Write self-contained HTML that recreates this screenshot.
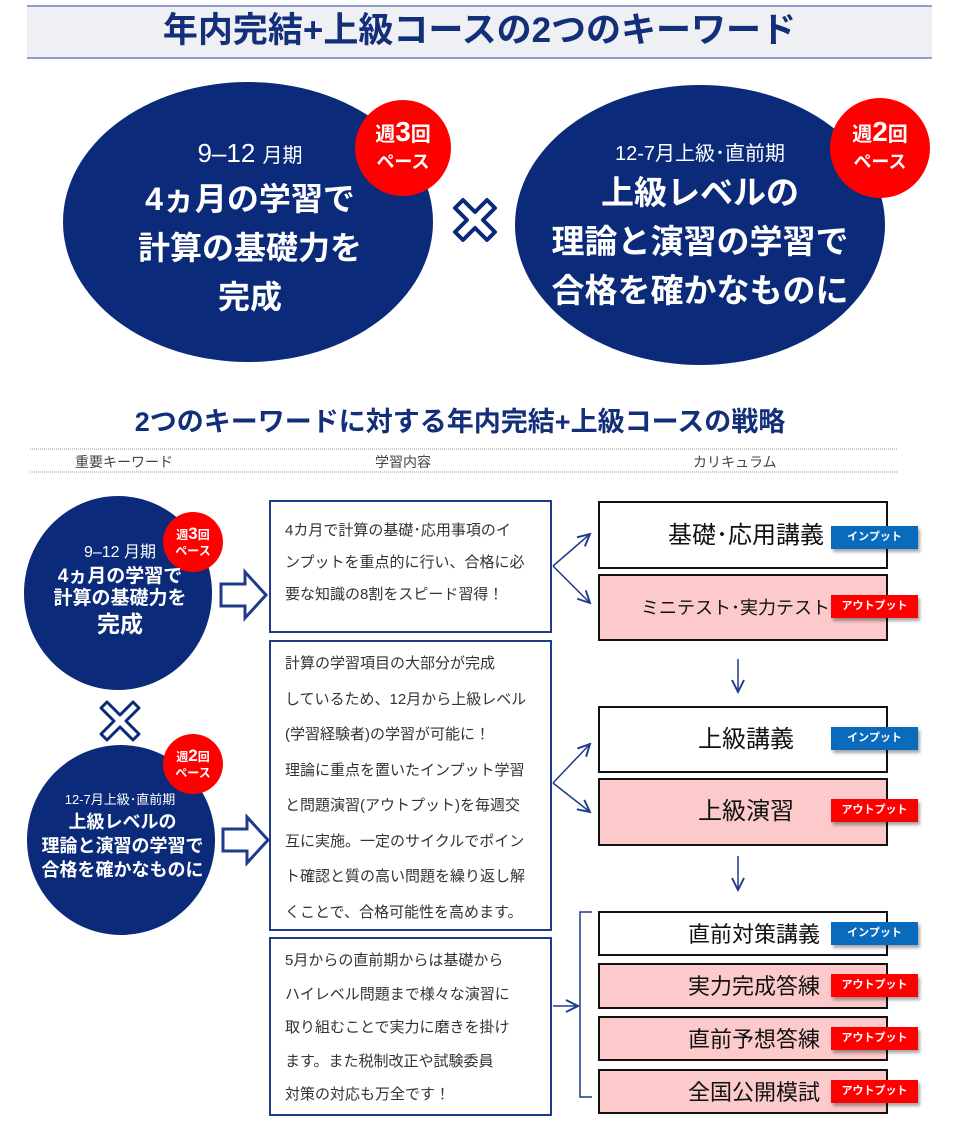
<!DOCTYPE html>
<html><head><meta charset="utf-8"><style>
body{margin:0;width:960px;height:1147px;background:#fff;position:relative;overflow:hidden;font-family:"Liberation Sans","Noto Sans CJK JP",sans-serif;}
.a{position:absolute;white-space:nowrap;}
.w{color:#fff;font-weight:bold;text-align:center;}
.box{position:absolute;border:2px solid #1e3c8a;box-sizing:border-box;background:#fff;font-size:15px;color:#333;padding-left:14px;}
.cb{position:absolute;left:598px;width:290px;border:2px solid #111;box-sizing:border-box;}
.pk{background:#fccaca;}
.tag{position:absolute;left:831px;width:87px;height:23px;color:#fff;font-size:11px;font-weight:bold;text-align:center;line-height:23px;box-shadow:2px 3px 3px rgba(0,0,0,.35);}
.in{background:#0a6bbd;}.out{background:#f00;}
.ct{position:absolute;right:62px;color:#111;white-space:nowrap;line-height:1;}
</style></head><body>
<div class="a" style="left:27px;top:5px;width:905px;height:50px;background:#eef0f3;border-top:2px solid #8da0c8;border-bottom:2px solid #8da0c8;"></div>
<div class="a" style="left:27px;top:8px;width:905px;text-align:center;font-size:35px;font-weight:bold;color:#132f7a;line-height:46px;">年内完結+上級コースの2つのキーワード</div>

<svg class="a" style="left:0;top:0" width="960" height="1147">
<defs><marker id="ar" markerWidth="10" markerHeight="10" refX="9" refY="5" orient="auto"><path d="M1,1 L9,5 L1,9" fill="none" stroke="#1e3c8a" stroke-width="1.3"/></marker></defs>
<ellipse cx="248" cy="222" rx="185" ry="140" fill="#0b2a7a"/>
<ellipse cx="700" cy="225" rx="185" ry="140" fill="#0b2a7a"/>
<circle cx="403" cy="148" r="48" fill="#f00"/>
<circle cx="880" cy="148" r="50" fill="#f00"/>
<path d="M455,208 L463,200 L475,212 L487,200 L495,208 L483,220 L495,232 L487,240 L475,228 L463,240 L455,232 L467,220Z" fill="#fff" stroke="#0b2a7a" stroke-width="4" stroke-linejoin="round"/>
<ellipse cx="118" cy="593" rx="94" ry="97" fill="#0b2a7a"/>
<ellipse cx="121" cy="840" rx="94" ry="95" fill="#0b2a7a"/>
<circle cx="193" cy="542" r="30" fill="#f00"/>
<circle cx="193" cy="764" r="30" fill="#f00"/>
<path d="M101,708 L107,702 L120,715 L133,702 L139,708 L126,721 L139,734 L133,740 L120,727 L107,740 L101,734 L114,721Z" fill="#fff" stroke="#0b2a7a" stroke-width="3" stroke-linejoin="round"/>
<path d="M221,584 L245,584 L245,572 L266,595 L245,618 L245,606 L221,606Z" fill="#fff" stroke="#1e3c8a" stroke-width="3"/>
<path d="M223,829 L247,829 L247,817 L268,840 L247,863 L247,851 L223,851Z" fill="#fff" stroke="#1e3c8a" stroke-width="3"/>
<line x1="30" y1="449" x2="898" y2="449" stroke="#999" stroke-dasharray="1,1"/>
<line x1="30" y1="472" x2="898" y2="472" stroke="#999" stroke-dasharray="1,1"/>
<g stroke="#1e3c8a" stroke-width="1.5" fill="none">
<line x1="553" y1="566" x2="590" y2="534" marker-end="url(#ar)"/>
<line x1="553" y1="566" x2="590" y2="603" marker-end="url(#ar)"/>
<line x1="553" y1="783" x2="590" y2="744" marker-end="url(#ar)"/>
<line x1="553" y1="783" x2="590" y2="812" marker-end="url(#ar)"/>
<line x1="738" y1="659" x2="738" y2="692" marker-end="url(#ar)"/>
<line x1="738" y1="856" x2="738" y2="890" marker-end="url(#ar)"/>
<line x1="553" y1="1006" x2="578" y2="1006" marker-end="url(#ar)"/>
<path d="M592,912 L580,912 L580,1097 L592,1097"/>
</g>
</svg>

<div class="a w" style="left:110px;top:138px;width:280px;font-size:26px;font-weight:normal;">9–12 <span style="font-size:20px">月期</span></div>
<div class="a w" style="left:60px;top:175px;width:380px;font-size:32px;line-height:49px;">4ヵ月の学習で<br>計算の基礎力を<br>完成</div>
<div class="a w" style="left:355px;top:118px;width:96px;font-size:20px;line-height:27px;">週<span style="font-size:28px">3</span>回<br><span style="font-size:18px">ペース</span></div>
<div class="a w" style="left:520px;top:137px;width:360px;font-size:20px;font-weight:normal;">12-7月上級･直前期</div>
<div class="a w" style="left:510px;top:168px;width:380px;font-size:33px;line-height:49px;">上級レベルの<br>理論と演習の学習で<br>合格を確かなものに</div>
<div class="a w" style="left:830px;top:118px;width:100px;font-size:20px;line-height:27px;">週<span style="font-size:28px">2</span>回<br><span style="font-size:18px">ペース</span></div>

<div class="a" style="left:0;top:400px;width:920px;text-align:center;font-size:27px;font-weight:bold;color:#132f7a;">2つのキーワードに対する年内完結+上級コースの戦略</div>
<div class="a" style="left:75px;top:452px;font-size:14px;color:#444;">重要キーワード</div>
<div class="a" style="left:375px;top:452px;font-size:14px;color:#444;">学習内容</div>
<div class="a" style="left:693px;top:452px;font-size:14px;color:#444;">カリキュラム</div>

<div class="a w" style="left:25px;top:543px;width:190px;font-size:16px;line-height:20px;font-weight:normal;">9–12 月期</div>
<div class="a w" style="left:20px;top:566px;width:200px;font-size:19px;line-height:22px;">4ヵ月の学習で<br>計算の基礎力を</div>
<div class="a w" style="left:20px;top:611px;width:200px;font-size:23px;line-height:26px;">完成</div>
<div class="a w" style="left:163px;top:526px;width:60px;font-size:12px;line-height:16px;">週<span style="font-size:17px">3</span>回<br>ペース</div>
<div class="a w" style="left:25px;top:792px;width:190px;font-size:13px;line-height:16px;font-weight:normal;">12-7月上級･直前期</div>
<div class="a w" style="left:20px;top:810px;width:205px;font-size:18px;line-height:24px;">上級レベルの<br>理論と演習の学習で<br>合格を確かなものに</div>
<div class="a w" style="left:163px;top:748px;width:60px;font-size:12px;line-height:16px;">週<span style="font-size:17px">2</span>回<br>ペース</div>

<div class="box" style="left:269px;top:500px;width:283px;height:133px;padding-top:13px;line-height:32px;">4カ月で計算の基礎･応用事項のイ<br>ンプットを重点的に行い、合格に必<br>要な知識の8割をスピード習得！</div>
<div class="box" style="left:269px;top:640px;width:283px;height:291px;padding-top:4px;line-height:35.5px;">計算の学習項目の大部分が完成<br>しているため、12月から上級レベル<br>(学習経験者)の学習が可能に！<br>理論に重点を置いたインプット学習<br>と問題演習(アウトプット)を毎週交<br>互に実施。一定のサイクルでポイン<br>ト確認と質の高い問題を繰り返し解<br>くことで、合格可能性を高めます。</div>
<div class="box" style="left:269px;top:937px;width:283px;height:179px;padding-top:5px;line-height:33.5px;">5月からの直前期からは基礎から<br>ハイレベル問題まで様々な演習に<br>取り組むことで実力に磨きを掛け<br>ます。また税制改正や試験委員<br>対策の対応も万全です！</div>

<div class="cb" style="top:501px;height:68px;"><span class="ct" style="top:21px;font-size:24px;">基礎･応用講義</span></div>
<div class="cb pk" style="top:574px;height:67px;"><span class="ct" style="top:23px;font-size:18px;right:56px;">ミニテスト･実力テスト</span></div>
<div class="cb" style="top:706px;height:67px;"><span class="ct" style="top:20px;font-size:24px;right:92px;">上級講義</span></div>
<div class="cb pk" style="top:778px;height:68px;"><span class="ct" style="top:20px;font-size:24px;right:92px;">上級演習</span></div>
<div class="cb" style="top:911px;height:45px;"><span class="ct" style="top:11px;font-size:22px;right:66px;">直前対策講義</span></div>
<div class="cb pk" style="top:963px;height:46px;"><span class="ct" style="top:11px;font-size:22px;right:66px;">実力完成答練</span></div>
<div class="cb pk" style="top:1016px;height:45px;"><span class="ct" style="top:11px;font-size:22px;right:66px;">直前予想答練</span></div>
<div class="cb pk" style="top:1069px;height:45px;"><span class="ct" style="top:11px;font-size:22px;right:66px;">全国公開模試</span></div>

<div class="tag in" style="top:526px;">インプット</div>
<div class="tag out" style="top:595px;">アウトプット</div>
<div class="tag in" style="top:727px;">インプット</div>
<div class="tag out" style="top:799px;">アウトプット</div>
<div class="tag in" style="top:922px;">インプット</div>
<div class="tag out" style="top:974px;">アウトプット</div>
<div class="tag out" style="top:1027px;">アウトプット</div>
<div class="tag out" style="top:1080px;">アウトプット</div>
</body></html>
